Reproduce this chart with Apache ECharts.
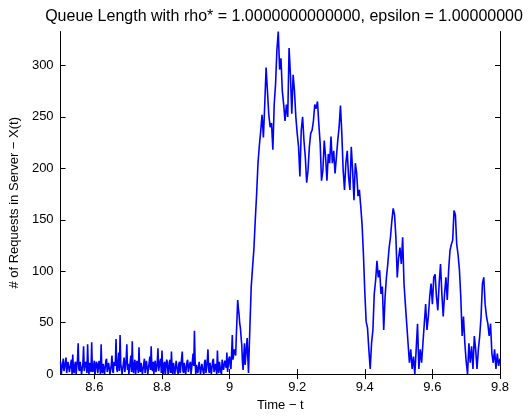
<!DOCTYPE html>
<html><head><meta charset="utf-8">
<script src="https://cdn.jsdelivr.net/npm/echarts@6/dist/echarts.min.js"></script>
<style>html,body{margin:0;padding:0;background:#fff}#c{width:532px;height:417px}</style>
</head><body><div id="c"></div>
<script>
// sampling grids of the trace
const lowStart = 8.5, lowStep = 0.002;     // before the burst (finely sampled)
const restStart = 9.06, restStep = 0.004;  // burst and after
// queue length, t = 8.500 .. 9.058
const lowSegment = [
12,0,1,10,15,3,2,11,16,1,0,12,13,2,3,10,14,0,19,4,
1,9,12,0,0,14,30,5,3,12,11,0,1,10,27,3,2,12,10,1,
29,6,0,11,12,2,31,4,2,9,13,0,0,12,10,1,1,13,14,0,
29,3,1,10,11,0,0,13,15,2,2,11,12,0,0,9,18,3,1,12,
13,8,34,5,2,12,21,3,38,10,9,0,0,11,16,2,2,14,29,4,
10,0,1,12,18,2,32,6,1,10,14,0,0,13,12,1,26,5,2,11,
11,0,0,10,15,1,2,13,12,0,0,11,17,4,27,6,3,12,0,9,
13,2,1,11,25,3,4,12,15,1,23,5,0,10,12,0,1,14,11,0,
2,12,14,1,22,3,0,11,10,0,1,13,13,2,0,10,12,1,2,15,
22,3,1,11,11,0,0,12,14,2,2,10,12,0,0,13,20,8,42,12,
0,9,10,1,1,12,13,0,0,10,11,2,0,12,14,1,2,13,24,4,
1,11,12,0,0,13,15,2,2,10,11,0,23,5,1,12,13,2,0,14,
14,4,3,13,12,6,21,2,1,15,17,8,5,20,38,14,15,24,22,18,
38,55,72,64,58,49,45,36,28,12,4,18,30,9,8,27,35,16,1,24
];
// queue length, t = 9.060 .. 9.384 (the burst)
const burstSegment = [
45,85,104,122,150,175,205,222,236,252,
230,262,298,275,252,240,244,218,262,282,
315,333,296,307,275,262,246,262,250,317,
291,253,291,275,250,234,221,192,237,250,
227,211,186,198,221,234,237,246,262,258,
265,243,224,188,198,227,211,188,214,205,
231,205,217,195,211,227,240,261,234,198,
179,205,217,192,179,221,198,169,205,195,
173,179
];
// queue length, t = 9.388 .. 9.800 (decay and later excursions)
const tailSegment = [
163,145,116,80,51,45,24,5,
30,43,78,91,110,94,101,78,85,43,
75,94,107,123,133,149,161,155,133,94,
113,123,107,133,88,68,49,30,11,24,
5,17,0,24,49,5,24,11,30,49,
68,43,56,75,88,68,94,97,75,62,
88,107,78,56,78,94,72,101,120,126,
130,159,155,126,116,101,75,37,56,30,
12,0,30,11,27,5,37,24,5,24,
37,56,88,94,68,56,49,37,49,20,
11,24,5,20,8,15
];
const xTicks = [8.6, 8.8, 9, 9.2, 9.4, 9.6, 9.8];
const yTicks = [0, 50, 100, 150, 200, 250, 300];
const xRange = [8.5, 9.8];
const yRange = [0, 333];

const restValues = burstSegment.concat(tailSegment);
const points = lowSegment.map((v, i) => [+(lowStart + i * lowStep).toFixed(3), v])
  .concat(restValues.map((v, i) => [+(restStart + i * restStep).toFixed(3), v]));

const FONT = "'Liberation Sans', Arial, Helvetica, sans-serif";
const black = '#000';
const chart = echarts.init(document.getElementById('c'), null, {renderer: 'canvas'});
const tickBase = {inside: true, length: 5, lineStyle: {color: black, width: 1}};
chart.setOption({
  animation: false,
  backgroundColor: '#fff',
  textStyle: {fontFamily: FONT},
  title: {
    text: 'Queue Length with rho* = 1.0000000000000, epsilon = 1.00000000',
    left: 279, top: 4, textAlign: 'center',
    textStyle: {fontFamily: FONT, fontSize: 16, fontWeight: 'normal', color: black}
  },
  grid: {left: 60, right: 32, top: 31.5, bottom: 39, containLabel: false},
  xAxis: [{
    type: 'value', min: xRange[0], max: xRange[1], position: 'bottom',
    axisLine: {lineStyle: {color: black, width: 1}},
    axisTick: Object.assign({customValues: xTicks}, tickBase),
    axisLabel: {customValues: xTicks, color: black, fontSize: 13, margin: 7, fontFamily: FONT},
    splitLine: {show: false},
    name: 'Time \u2212 t', nameLocation: 'middle', nameGap: 22,
    nameTextStyle: {color: black, fontSize: 13, fontFamily: FONT}
  }, {
    type: 'value', min: xRange[0], max: xRange[1], position: 'top',
    axisLine: {lineStyle: {color: black, width: 1}},
    axisTick: Object.assign({customValues: xTicks}, tickBase),
    axisLabel: {show: false}, splitLine: {show: false}
  }],
  yAxis: [{
    type: 'value', min: yRange[0], max: yRange[1], position: 'left',
    axisLine: {show: true, lineStyle: {color: black, width: 1}},
    axisTick: Object.assign({customValues: yTicks}, tickBase),
    axisLabel: {customValues: yTicks, color: black, fontSize: 13, margin: 7, fontFamily: FONT},
    splitLine: {show: false},
    name: '# of Requests in Server \u2212 X(t)', nameLocation: 'middle', nameGap: 25,
    nameTextStyle: {color: black, fontSize: 13, fontFamily: FONT}
  }, {
    type: 'value', min: yRange[0], max: yRange[1], position: 'right',
    axisLine: {show: true, lineStyle: {color: black, width: 1}},
    axisTick: Object.assign({customValues: yTicks}, tickBase),
    axisLabel: {show: false}, splitLine: {show: false}
  }],
  series: [{
    type: 'line', data: points, xAxisIndex: 0, yAxisIndex: 0,
    showSymbol: false, symbol: 'none',
    lineStyle: {color: '#0000ff', width: 1.6},
    clip: true
  }]
});
</script>
</body></html>
